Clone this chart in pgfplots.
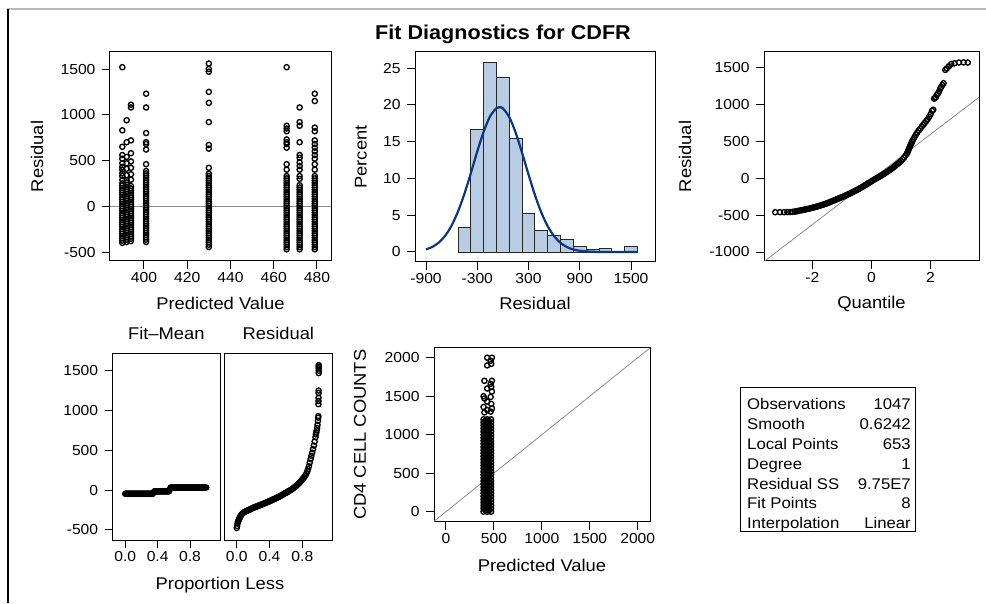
\documentclass[border=0pt]{standalone}
\usepackage{fontspec}
\setmainfont{Liberation Sans}[FakeStretch=1.08]
\usepackage{pgfplots}
\pgfplotsset{compat=1.18}
\definecolor{histfill}{HTML}{B8CCE4}
\definecolor{fitblue}{HTML}{0A3782}
\definecolor{refgray}{HTML}{8C8C8C}

\pgfplotsset{
  sasbox/.style={
    scale only axis,
    axis line style={black, line width=1pt},
    tick align=outside,
    xtick pos=left, ytick pos=left,
    major tick length=8pt,
    tick style={black, line width=1pt},
    tick label style={font=\fontsize{14.5}{17}\selectfont},
    yticklabel style={xshift=-3pt},
    label style={font=\fontsize{17}{20}\selectfont},
    /pgf/number format/assume math mode=true,
    /pgf/number format/1000 sep={},
    scaled ticks=false,
  },
  dots/.style={only marks, mark=o, mark size=2.6pt, mark options={line width=1.35pt, draw=black}},
}

\begin{document}
\begin{tikzpicture}[x=1pt, y=1pt]
\path[use as bounding box] (0,0) rectangle (986,603);
% frame of the page
\draw[gray!55, line width=1.2pt] (7,594) -- (986,594);
\draw[black, line width=1.5pt] (8,594) -- (8,0);

\node[font=\bfseries\fontsize{20}{24}\selectfont] at (503,569) {Fit Diagnostics for CDFR};

% residual vs predicted
\begin{axis}[sasbox, at={(110pt,342pt)}, anchor=south west, width=221pt, height=209pt,
  xmin=384.3, xmax=486.5, ymin=-598, ymax=1686,
  xtick={400,420,440,460,480}, xticklabels={400,420,440,460,480},
  ytick={-500,0,500,1000,1500}, yticklabels={-500,0,500,1000,1500},
  xlabel={Predicted Value}, ylabel={Residual},
  xlabel style={at={(axis description cs:0.5,-0.201)}, anchor=center},
  ylabel style={at={(axis description cs:-0.33,0.5)}, anchor=center}]
\addplot[refgray, line width=0.8pt] coordinates {(384.3,0) (486.5,0)};
\addplot[dots] coordinates {
(390,-400)(390,-375)(390,-350)(390,-325)(390,-300)(390,-275)(390,-250)(390,-225)(390,-200)
(390,-175)(390,-150)(390,-125)(390,-100)(390,-75)(390,-50)(390,-25)(390,0)(390,25)(390,50)
(390,75)(390,100)(390,125)(390,150)(390,175)(390,200)(390,225)(390,250)
(390,290)(390,330)(390,360)(390,400)(390,430)(390,470)(390,520)(390,560)(390,650)(390,830)(390,1520)
(392,-390)(392,-365)(392,-340)(392,-315)(392,-290)(392,-265)(392,-240)(392,-215)(392,-190)
(392,-165)(392,-140)(392,-115)(392,-90)(392,-65)(392,-40)(392,-15)(392,10)(392,35)(392,60)
(392,85)(392,110)(392,135)(392,160)(392,185)(392,210)(392,235)(392,260)(392,285)
(392,340)(392,410)(392,470)(392,540)(392,700)(392,940)
(394,-380)(394,-355)(394,-330)(394,-305)(394,-280)(394,-255)(394,-230)(394,-205)(394,-180)
(394,-155)(394,-130)(394,-105)(394,-80)(394,-55)(394,-30)(394,-5)(394,20)(394,45)(394,70)
(394,95)(394,120)(394,145)(394,170)(394,195)(394,220)
(394,290)(394,350)(394,420)(394,490)(394,580)(394,720)(394,1080)(394,1110)
(401,-390)(401,-365)(401,-340)(401,-315)(401,-290)(401,-265)(401,-240)(401,-215)(401,-190)
(401,-165)(401,-140)(401,-115)(401,-90)(401,-65)(401,-40)(401,-15)(401,10)(401,35)(401,60)
(401,85)(401,110)(401,135)(401,160)(401,185)(401,210)(401,235)(401,260)(401,285)(401,310)
(401,335)(401,360)(401,385)
(401,460)(401,620)(401,680)(401,700)(401,800)(401,1080)(401,1230)
(430,-445)(430,-420)(430,-395)(430,-370)(430,-345)(430,-320)(430,-295)(430,-270)(430,-245)
(430,-220)(430,-195)(430,-170)(430,-145)(430,-120)(430,-95)(430,-70)(430,-45)(430,-20)(430,5)
(430,30)(430,55)(430,80)(430,105)(430,130)(430,155)(430,180)(430,205)(430,230)(430,255)
(430,280)(430,305)(430,330)(430,355)
(430,420)(430,630)(430,670)(430,920)(430,1130)(430,1250)(430,1470)(430,1500)(430,1560)
(466,-470)(466,-445)(466,-420)(466,-395)(466,-370)(466,-345)(466,-320)(466,-295)(466,-270)
(466,-245)(466,-220)(466,-195)(466,-170)(466,-145)(466,-120)(466,-95)(466,-70)(466,-45)(466,-20)
(466,5)(466,30)(466,55)(466,80)(466,105)(466,130)(466,155)(466,180)(466,205)(466,230)
(466,255)(466,280)(466,305)(466,330)
(466,400)(466,460)(466,640)(466,680)(466,700)(466,730)(466,820)(466,850)(466,880)(466,1520)
(472,-470)(472,-445)(472,-420)(472,-395)(472,-370)(472,-345)(472,-320)(472,-295)(472,-270)
(472,-245)(472,-220)(472,-195)(472,-170)(472,-145)(472,-120)(472,-95)(472,-70)(472,-45)(472,-20)
(472,5)(472,30)(472,55)(472,80)(472,105)(472,130)(472,155)(472,180)(472,205)(472,230)
(472,300)(472,330)(472,400)(472,440)(472,480)(472,530)(472,560)(472,700)(472,880)(472,920)(472,1080)
(479,-470)(479,-445)(479,-420)(479,-395)(479,-370)(479,-345)(479,-320)(479,-295)(479,-270)
(479,-245)(479,-220)(479,-195)(479,-170)(479,-145)(479,-120)(479,-95)(479,-70)(479,-45)(479,-20)
(479,5)(479,30)(479,55)(479,80)(479,105)(479,130)(479,155)(479,180)(479,205)(479,230)
(479,255)(479,280)(479,305)(479,330)
(479,400)(479,460)(479,520)(479,560)(479,600)(479,640)(479,680)(479,720)(479,820)(479,860)(479,1150)(479,1230)
};
\end{axis}

% histogram of residuals
\begin{axis}[sasbox, at={(415pt,341pt)}, anchor=south west, width=240pt, height=210pt,
  xmin=-1029, xmax=1781, ymin=-1.36, ymax=27.2,
  xtick={-900,-300,300,900,1500}, xticklabels={-900,-300,300,900,1500},
  ytick={0,5,10,15,20,25}, yticklabels={0,5,10,15,20,25},
  xlabel={Residual}, ylabel={Percent},
  xlabel style={at={(axis description cs:0.5,-0.195)}, anchor=center},
  ylabel style={at={(axis description cs:-0.226,0.5)}, anchor=center}]
\addplot[ybar interval, fill=histfill, draw=black!85, line width=0.9pt] coordinates {
(-525,3.4) (-375,16.7) (-225,25.8) (-75,23.8) (75,15.5) (225,5.25) (375,2.9)
(525,2.2) (675,1.7) (825,0.8) (975,0.4) (1125,0.5) (1275,0)};
\addplot[ybar interval, fill=histfill, draw=black!85, line width=0.9pt] coordinates {
(1425,0.7) (1575,0.7)};
\addplot[fitblue, line width=2.2pt, smooth] coordinates {
(-900,0.36) (-825,0.70) (-750,1.29) (-675,2.22) (-600,3.61) (-525,5.52) (-450,7.93)
(-375,10.73) (-300,13.67) (-225,16.37) (-150,18.45) (-75,19.57) (-40,19.70) (0,19.53)
(75,18.34) (150,16.21) (225,13.47) (300,10.54) (375,7.76) (450,5.37) (525,3.50)
(600,2.15) (675,1.24) (750,0.67) (825,0.34) (900,0.17) (975,0.08) (1050,0.03)
(1125,0.01) (1200,0.005) (1350,0) (1500,0) (1575,0)};
\end{axis}

% normal quantile plot
\begin{axis}[sasbox, at={(764pt,342pt)}, anchor=south west, width=215pt, height=209pt,
  xmin=-3.64, xmax=3.64, ymin=-1122, ymax=1713,
  xtick={-2,0,2}, xticklabels={-2,0,2},
  ytick={-1000,-500,0,500,1000,1500}, yticklabels={-1000,-500,0,500,1000,1500},
  xlabel={Quantile}, ylabel={Residual},
  xlabel style={at={(axis description cs:0.5,-0.206)}, anchor=center},
  ylabel style={at={(axis description cs:-0.367,0.5)}, anchor=center}]
\addplot[refgray, line width=0.8pt] coordinates {(-3.64,-1129) (3.64,1099)};
\addplot[dots] coordinates {
(-3.26,-460)(-3.1,-460)(-2.96,-460)(-2.85,-458)(-2.75,-458)(-2.67,-455)(-2.6,-452)(-2.55,-448)
(-2.5,-444)(-2.45,-440)(-2.4,-436)(-2.35,-432)(-2.3,-428)(-2.25,-424)(-2.2,-419)(-2.15,-415)
(-2.1,-410)(-2.05,-405)(-2.0,-400)(-1.95,-395)(-1.9,-390)(-1.85,-384)(-1.8,-378)(-1.75,-371)
(-1.7,-365)(-1.65,-358)(-1.6,-352)(-1.55,-345)(-1.5,-338)(-1.45,-330)(-1.4,-322)(-1.35,-313)
(-1.3,-305)(-1.25,-297)(-1.2,-289)(-1.15,-280)(-1.1,-272)(-1.05,-264)(-1.0,-255)(-0.95,-247)
(-0.9,-238)(-0.85,-229)(-0.8,-219)(-0.75,-210)(-0.7,-200)(-0.65,-190)(-0.6,-180)(-0.55,-170)
(-0.5,-160)(-0.45,-149)(-0.4,-138)(-0.35,-126)(-0.3,-115)(-0.25,-103)(-0.2,-90)(-0.15,-78)
(-0.1,-65)(-0.05,-53)(0,-40)(0.05,-28)(0.1,-15)(0.15,-4)(0.2,8)(0.25,19)(0.3,30)(0.35,43)
(0.4,55)(0.45,68)(0.5,80)(0.55,94)(0.6,108)(0.65,121)(0.7,135)(0.75,151)(0.8,168)(0.85,184)
(0.9,200)(0.95,218)(1.0,235)(1.05,258)(1.1,280)(1.15,308)(1.2,335)(1.225,358)(1.25,382)
(1.275,406)(1.3,430)(1.325,452)(1.35,475)(1.375,497)(1.4,520)(1.45,555)(1.5,590)(1.55,620)
(1.6,650)(1.65,675)(1.7,700)(1.75,725)(1.8,750)(1.85,775)(1.9,800)(1.95,835)(2.0,870)(2.05,915)
(2.09,930)(2.12,1080)(2.15,1090)(2.18,1100)(2.21,1130)(2.25,1150)(2.29,1180)(2.33,1220)
(2.36,1240)(2.40,1265)(2.44,1290)(2.50,1470)(2.55,1490)(2.62,1520)(2.70,1550)(2.81,1560)
(2.96,1570)(3.12,1572)(3.26,1570)
};
\end{axis}

% residual-fit spread: fit minus mean
\begin{axis}[sasbox, at={(112.7pt,63pt)}, anchor=south west, width=107.3pt, height=186pt,
  xmin=-0.155, xmax=1.17, ymin=-626, ymax=1710,
  xtick={0,0.4,0.8}, xticklabels={0.0,0.4,0.8},
  ytick={-500,0,500,1000,1500}, yticklabels={-500,0,500,1000,1500},
  title={Fit\textendash Mean},
  title style={at={(axis description cs:0.5,1.08)}, anchor=center, font=\fontsize{17}{20}\selectfont}]
\addplot[dots] coordinates {
(0,-45)(0.02,-45)(0.04,-45)(0.06,-45)(0.08,-45)(0.10,-45)(0.12,-45)(0.14,-45)(0.16,-45)
(0.18,-45)(0.20,-45)(0.22,-45)(0.24,-45)(0.26,-45)(0.28,-45)(0.30,-45)(0.32,-45)(0.34,-45)
(0.36,-15)(0.38,-15)(0.40,-15)(0.42,-15)(0.44,-15)(0.46,-15)(0.48,-15)(0.50,-15)(0.52,-15)(0.54,-15)
(0.56,33)(0.58,33)(0.60,33)(0.62,33)(0.64,33)(0.66,33)(0.68,33)(0.70,33)(0.72,33)(0.74,33)
(0.76,33)(0.78,33)(0.80,33)(0.82,33)(0.84,33)(0.86,33)(0.88,33)(0.90,33)(0.92,33)(0.94,33)
(0.96,33)(0.98,33)(1.0,33)
(0.01,-45)(0.03,-45)(0.05,-45)(0.07,-45)(0.09,-45)(0.11,-45)(0.13,-45)(0.15,-45)(0.17,-45)
(0.19,-45)(0.21,-45)(0.23,-45)(0.25,-45)(0.27,-45)(0.29,-45)(0.31,-45)(0.33,-45)(0.35,-30)
(0.37,-15)(0.39,-15)(0.41,-15)(0.43,-15)(0.45,-15)(0.47,-15)(0.49,-15)(0.51,-15)(0.53,-15)(0.55,10)
(0.57,33)(0.59,33)(0.61,33)(0.63,33)(0.65,33)(0.67,33)(0.69,33)(0.71,33)(0.73,33)(0.75,33)
(0.77,33)(0.79,33)(0.81,33)(0.83,33)(0.85,33)(0.87,33)(0.89,33)(0.91,33)(0.93,33)(0.95,33)
(0.97,33)(0.99,33)
};
\end{axis}

% residual-fit spread: residual
\begin{axis}[sasbox, at={(224pt,63pt)}, anchor=south west, width=108.7pt, height=186pt,
  xmin=-0.155, xmax=1.17, ymin=-626, ymax=1710,
  xtick={0,0.4,0.8}, xticklabels={0.0,0.4,0.8}, ytick=\empty,
  title={Residual},
  title style={at={(axis description cs:0.5,1.08)}, anchor=center, font=\fontsize{17}{20}\selectfont}]
\addplot[dots] coordinates {
(0,-475)(0.005,-450)(0.01,-420)(0.015,-400)(0.02,-385)(0.025,-372)(0.03,-360)(0.035,-350)
(0.04,-340)(0.045,-330)(0.05,-320)(0.06,-305)
(0.07,-295)(0.08,-285)(0.09,-278)(0.10,-272)(0.11,-267)(0.12,-262)(0.13,-257)(0.14,-252)
(0.15,-248)(0.16,-243)(0.17,-238)(0.18,-232)(0.19,-227)
(0.20,-222)(0.21,-218)(0.22,-214)(0.23,-210)(0.24,-206)(0.25,-202)(0.26,-198)(0.27,-194)
(0.28,-190)(0.29,-186)(0.30,-182)(0.31,-178)(0.32,-173)(0.33,-169)(0.34,-165)(0.35,-160)
(0.36,-156)(0.37,-152)(0.38,-147)(0.39,-143)(0.40,-138)(0.41,-134)(0.42,-129)(0.43,-124)
(0.44,-119)(0.45,-115)(0.46,-110)(0.47,-105)(0.48,-100)(0.49,-95)(0.50,-90)(0.51,-85)
(0.52,-79)(0.53,-74)(0.54,-68)(0.55,-62)(0.56,-56)(0.57,-51)(0.58,-45)(0.59,-39)(0.60,-33)
(0.61,-27)(0.62,-21)(0.63,-15)(0.64,-9)(0.65,-3)(0.66,4)(0.67,11)(0.68,18)(0.69,25)
(0.70,33)(0.71,41)(0.72,50)(0.73,59)(0.74,68)(0.75,78)(0.76,88)(0.77,99)(0.78,110)
(0.79,122)(0.80,135)(0.81,147)(0.82,160)(0.83,175)(0.84,190)(0.85,210)
(0.86,235)(0.87,265)(0.88,300)(0.89,345)(0.90,390)(0.91,430)(0.92,470)(0.93,515)(0.94,560)
(0.95,610)(0.96,665)(0.965,700)(0.97,725)(0.975,750)(0.98,780)(0.985,820)(0.99,870)
(0.993,910)(0.995,930)(0.996,1080)(0.997,1120)(0.9975,1160)(0.998,1220)(0.9985,1250)
(0.999,1470)(0.9995,1530)(1.0,1570)(1.0,1500)(1.0,1550)
};
\end{axis}
\node[font=\fontsize{17}{20}\selectfont] at (220,18) {Proportion Less};

% observed vs predicted
\begin{axis}[sasbox, at={(434pt,81.3pt)}, anchor=south west, width=216pt, height=174pt,
  xmin=-125, xmax=2128, ymin=-130, ymax=2130,
  xtick={0,500,1000,1500,2000}, xticklabels={0,500,1000,1500,2000},
  ytick={0,500,1000,1500,2000}, yticklabels={0,500,1000,1500,2000},
  xlabel={Predicted Value}, ylabel={CD4 CELL COUNTS},
  xlabel style={at={(axis description cs:0.5,-0.249)}, anchor=center},
  ylabel style={at={(axis description cs:-0.343,0.5)}, anchor=center}]
\addplot[refgray, line width=0.8pt] coordinates {(-130,-130) (2130,2130)};
\addplot[dots] coordinates {
(392,0)(392,40)(392,80)(392,120)(392,160)(392,200)(392,240)(392,280)(392,320)(392,360)
(392,400)(392,440)(392,480)(392,520)(392,560)(392,600)(392,640)(392,680)(392,720)(392,760)
(392,800)(392,840)(392,880)(392,920)(392,960)(392,1000)(392,1040)(392,1080)(392,1120)(392,1160)(392,1200)
(411,20)(411,60)(411,100)(411,140)(411,180)(411,220)(411,260)(411,300)(411,340)(411,380)
(411,420)(411,460)(411,500)(411,540)(411,580)(411,620)(411,660)(411,700)(411,740)(411,780)
(411,820)(411,860)(411,900)(411,940)(411,980)(411,1020)(411,1060)(411,1100)(411,1140)(411,1180)
(430,0)(430,40)(430,80)(430,120)(430,160)(430,200)(430,240)(430,280)(430,320)(430,360)
(430,400)(430,440)(430,480)(430,520)(430,560)(430,600)(430,640)(430,680)(430,720)(430,760)
(430,800)(430,840)(430,880)(430,920)(430,960)(430,1000)(430,1040)(430,1080)(430,1120)(430,1160)(430,1200)
(450,20)(450,60)(450,100)(450,140)(450,180)(450,220)(450,260)(450,300)(450,340)(450,380)
(450,420)(450,460)(450,500)(450,540)(450,580)(450,620)(450,660)(450,700)(450,740)(450,780)
(450,820)(450,860)(450,900)(450,940)(450,980)(450,1020)(450,1060)(450,1100)(450,1140)(450,1180)
(470,0)(470,40)(470,80)(470,120)(470,160)(470,200)(470,240)(470,280)(470,320)(470,360)
(470,400)(470,440)(470,480)(470,520)(470,560)(470,600)(470,640)(470,680)(470,720)(470,760)
(470,800)(470,840)(470,880)(470,920)(470,960)(470,1000)(470,1040)(470,1080)(470,1120)(470,1160)(470,1200)
(401,1290)(466,1300)(430,1320)(479,1340)(392,1360)(472,1400)(430,1430)(401,1470)(466,1490)
(392,1500)(479,1560)(430,1600)(472,1620)(466,1660)(401,1700)(479,1700)(430,1900)(472,1920)
(466,1960)(479,2000)(430,2000)
};
\end{axis}

% fit statistics
\draw[black, line width=1pt] (740.7,71) rectangle (915,215);
\begin{scope}[every node/.style={font=\fontsize{15.5}{18}\selectfont, inner sep=0pt}]
\node[anchor=base west] at (747,193.5) {Observations};
\node[anchor=base east] at (911,193.5) {1047};
\node[anchor=base west] at (747,173.6) {Smooth};
\node[anchor=base east] at (911,173.6) {0.6242};
\node[anchor=base west] at (747,153.7) {Local Points};
\node[anchor=base east] at (911,153.7) {653};
\node[anchor=base west] at (747,133.8) {Degree};
\node[anchor=base east] at (911,133.8) {1};
\node[anchor=base west] at (747,113.9) {Residual SS};
\node[anchor=base east] at (911,113.9) {9.75E7};
\node[anchor=base west] at (747,94.0) {Fit Points};
\node[anchor=base east] at (911,94.0) {8};
\node[anchor=base west] at (747,74.1) {Interpolation};
\node[anchor=base east] at (911,74.1) {Linear};
\end{scope}
\end{tikzpicture}
\end{document}
